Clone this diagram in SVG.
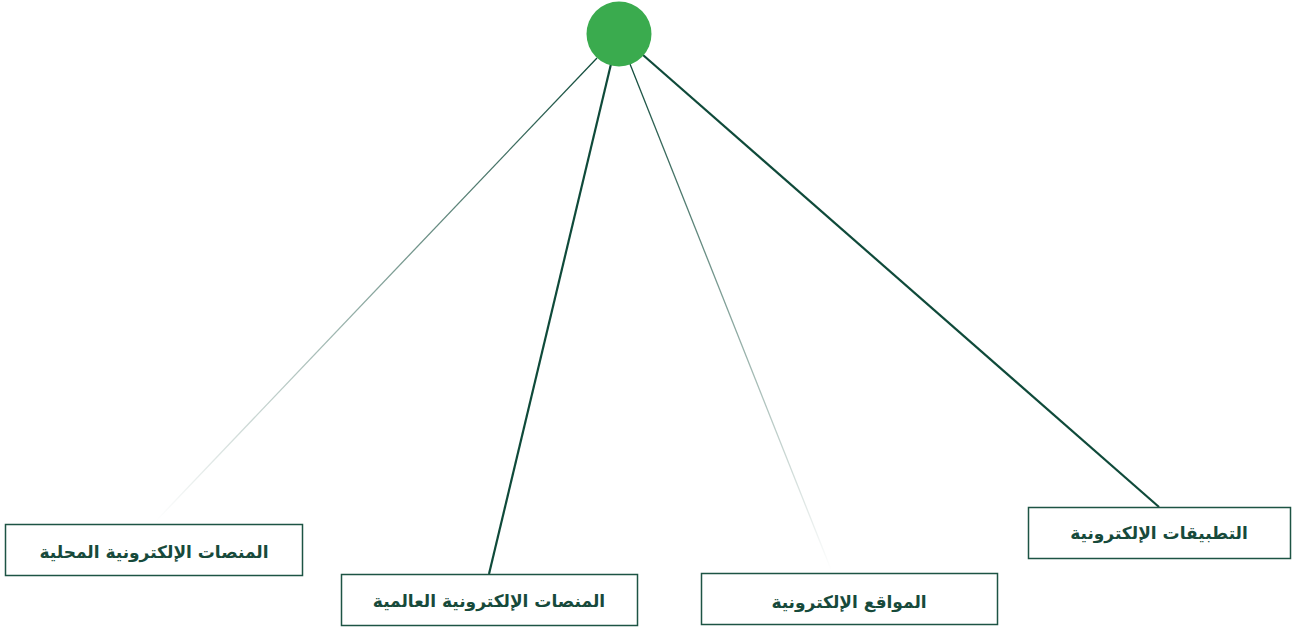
<svg xmlns="http://www.w3.org/2000/svg" width="1294" height="627" viewBox="0 0 1294 627">
<style>
.box{fill:#ffffff;stroke:#1d5444;stroke-width:1.5}
.lbl{font-family:"DejaVu Sans","Noto Sans",sans-serif;font-weight:bold;font-size:17px;fill:#174a3b;text-anchor:middle;dominant-baseline:central}
</style>
<defs>
<linearGradient id="g1" gradientUnits="userSpaceOnUse" x1="597" y1="58" x2="155" y2="520">
<stop offset="0" stop-color="#0f4a3a" stop-opacity="1"/>
<stop offset="1" stop-color="#0f4a3a" stop-opacity="0"/>
</linearGradient>
<linearGradient id="g3" gradientUnits="userSpaceOnUse" x1="630" y1="64" x2="832" y2="570">
<stop offset="0" stop-color="#0f4a3a" stop-opacity="1"/>
<stop offset="1" stop-color="#0f4a3a" stop-opacity="0"/>
</linearGradient>
</defs>
<g id="connectors">
<line x1="597" y1="58" x2="155" y2="522" stroke="url(#g1)" stroke-width="1.3"/>
<line x1="611" y1="64" x2="489" y2="574" stroke="#0f4a3a" stroke-width="2.2"/>
<line x1="630" y1="64" x2="832" y2="572" stroke="url(#g3)" stroke-width="1.3"/>
<line x1="643" y1="55" x2="1159" y2="507" stroke="#0f4a3a" stroke-width="2.2"/>
</g>
<g id="root"><circle cx="619" cy="34" r="32.5" fill="#3aab4e"/></g>
<g id="n1"><rect class="box" x="5.5" y="524.5" width="297" height="51"/><text class="lbl" x="154" y="552">المنصات الإلكترونية المحلية</text></g>
<g id="n2"><rect class="box" x="341.5" y="574.5" width="296" height="51"/><text class="lbl" x="489" y="601">المنصات الإلكترونية العالمية</text></g>
<g id="n3"><rect class="box" x="701.5" y="573.5" width="296" height="51"/><text class="lbl" x="849" y="602">المواقع الإلكترونية</text></g>
<g id="n4"><rect class="box" x="1028.5" y="507.5" width="262" height="51"/><text class="lbl" x="1159" y="533">التطبيقات الإلكترونية</text></g>
</svg>
